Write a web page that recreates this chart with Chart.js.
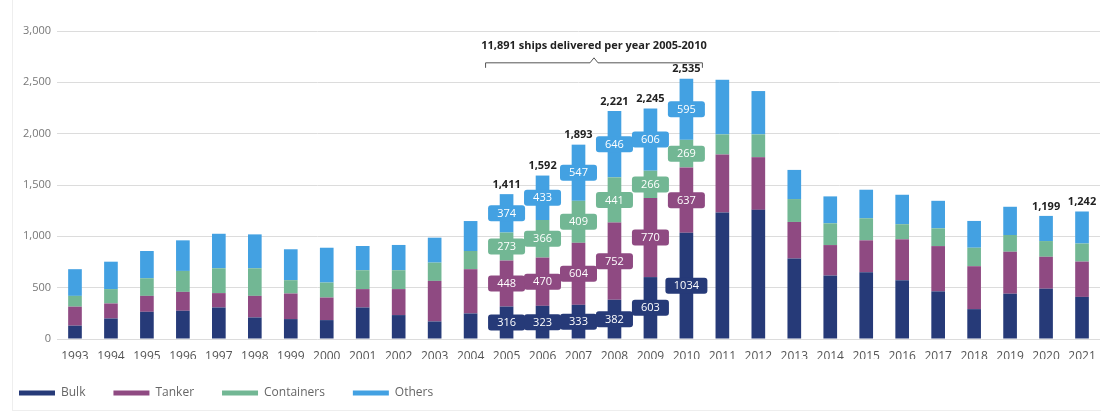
<!DOCTYPE html>
<html>
<head>
<meta charset="utf-8">
<script src="https://cdn.jsdelivr.net/npm/chart.js@4.4.1/dist/chart.umd.min.js"></script>
<style>
  body { margin: 0; background: #fff; }
  #wrap { position: relative; width: 1102px; height: 416px; }
  #frame { position: absolute; left: 12px; top: 0; width: 1088px; height: 410px;
           border-left: 1px solid #eeeeee; border-bottom: 1px solid #eeeeee; }
  canvas { position: absolute; left: 0; top: 0; }
</style>
</head>
<body>
<div id="wrap">
  <div id="frame"></div>
  <canvas id="grafik" width="1102" height="416"></canvas>
</div>
<script>
var godine = ["1993", "1994", "1995", "1996", "1997", "1998", "1999", "2000", "2001", "2002",
  "2003", "2004", "2005", "2006", "2007", "2008", "2009", "2010", "2011", "2012",
  "2013", "2014", "2015", "2016", "2017", "2018", "2019", "2020", "2021"];
var bulk = [130, 200, 265, 275, 307, 210, 194, 184, 307, 233, 171, 249, 316, 323, 333, 382, 603, 1034,
  1232, 1258, 784, 618, 650, 572, 464, 291, 441, 490, 410];
var tanker = [185, 146, 155, 184, 140, 210, 249, 220, 179, 253, 395, 431, 448, 470, 604, 752, 770, 637,
  565, 513, 356, 297, 311, 399, 441, 418, 409, 311, 344];
var containers = [105, 140, 172, 204, 242, 269, 130, 146, 184, 184, 178, 177, 273, 366, 409, 441, 266, 269,
  196, 222, 223, 212, 215, 147, 173, 180, 163, 153, 176];
var others = [260, 267, 265, 298, 336, 330, 301, 339, 236, 246, 243, 292, 374, 433, 547, 646, 606, 595,
  532, 422, 284, 262, 278, 287, 268, 261, 275, 245, 312];

var yTicks = [0, 500, 1000, 1500, 2000, 2500, 3000];
var godineSaOznakom = ["2005", "2006", "2007", "2008", "2009", "2010"];
var godineSaZbirom = ["2005", "2006", "2007", "2008", "2009", "2010", "2020", "2021"];
var naslovZagrada = "11,891 ships delivered per year 2005-2010";

var boje = ["#263a78", "#8f4a82", "#72b794", "#43a1e2"];
var FONT = '"Open Sans", "Noto Sans", sans-serif';

function zbir(i) {
  return bulk[i] + tanker[i] + containers[i] + others[i];
}

var oznake = {
  id: "oznake",
  afterLayout: function (chart) {
    // legenda malo levo, kao na slici
    chart.legend.left -= 9;
    chart.legend.right -= 9;
  },
  afterDatasetsDraw: function (chart) {
    var ctx = chart.ctx;
    var x = chart.scales.x;
    var y = chart.scales.y;
    ctx.save();

    // obojene kutije sa vrednostima
    ctx.font = "11px " + FONT;
    ctx.textAlign = "center";
    ctx.textBaseline = "middle";
    godineSaOznakom.forEach(function (g) {
      var i = godine.indexOf(g);
      chart.data.datasets.forEach(function (ds, d) {
        var bar = chart.getDatasetMeta(d).data[i];
        var cy = (bar.y + bar.base) / 2;
        var txt = String(ds.data[i]);
        var w = txt.length > 3 ? 42 : 37;
        ctx.fillStyle = ds.backgroundColor;
        ctx.beginPath();
        ctx.roundRect(bar.x - w / 2, cy - 8, w, 16, 3);
        ctx.fill();
        ctx.fillStyle = "#ffffff";
        ctx.fillText(txt, bar.x, cy + 0.5);
      });
    });

    // zbirovi iznad stubova
    ctx.font = "bold 11px " + FONT;
    ctx.fillStyle = "#222222";
    ctx.textBaseline = "bottom";
    godineSaZbirom.forEach(function (g) {
      var i = godine.indexOf(g);
      var t = zbir(i);
      ctx.fillText(t.toLocaleString("en-US"), x.getPixelForValue(i), y.getPixelForValue(t) - 4);
    });

    // zagrada 2005-2010
    var x1 = x.getPixelForValue(godine.indexOf("2005")) - 21;
    var x2 = x.getPixelForValue(godine.indexOf("2010")) + 16;
    var sred = (x1 + x2) / 2;
    var yl = y.getPixelForValue(2690);
    ctx.strokeStyle = "#555555";
    ctx.lineWidth = 1;
    ctx.beginPath();
    ctx.moveTo(x1, yl + 5);
    ctx.lineTo(x1, yl);
    ctx.lineTo(sred - 4, yl);
    ctx.lineTo(sred, yl - 5);
    ctx.lineTo(sred + 4, yl);
    ctx.lineTo(x2, yl);
    ctx.lineTo(x2, yl + 5);
    ctx.stroke();
    ctx.textBaseline = "middle";
    ctx.fillText(naslovZagrada, sred, y.getPixelForValue(2855));

    ctx.restore();
  }
};

var chrt = document.getElementById("grafik").getContext("2d");
var grafik = new Chart(chrt, {
  type: "bar",
  data: {
    labels: godine,
    datasets: [
      { label: "Bulk", data: bulk, backgroundColor: boje[0] },
      { label: "Tanker", data: tanker, backgroundColor: boje[1] },
      { label: "Containers", data: containers, backgroundColor: boje[2] },
      { label: "Others", data: others, backgroundColor: boje[3] },
    ],
  },
  options: {
    responsive: false,
    animation: false,
    datasets: { bar: { barPercentage: 0.38, categoryPercentage: 1, borderWidth: 0 } },
    layout: { padding: { top: 31, right: 2, bottom: 7, left: 0 } },
    scales: {
      x: {
        stacked: true,
        afterFit: function (s) { s.height = 20; },
        grid: { display: false },
        border: { display: false },
        ticks: { color: "#555555", font: { family: FONT, size: 12 }, padding: 2, maxRotation: 0, autoSkip: false },
      },
      y: {
        stacked: true,
        min: 0,
        max: 3000,
        afterBuildTicks: function (s) {
          s.ticks = yTicks.map(function (v) { return { value: v }; });
        },
        afterFit: function (s) { s.width = 57; },
        grid: { color: "#dcdcdc", drawTicks: false },
        border: { display: false },
        ticks: {
          color: "#777777",
          font: { family: FONT, size: 11 },
          padding: 6,
          callback: function (v) { return v.toLocaleString("en-US"); },
        },
      },
    },
    plugins: {
      legend: {
        position: "bottom",
        align: "start",
        labels: {
          boxWidth: 36,
          boxHeight: 5,
          padding: 28,
          color: "#666666",
          font: { family: FONT, size: 12 },
        },
      },
      tooltip: { enabled: false },
    },
  },
  plugins: [oznake],
});
</script>
</body>
</html>
